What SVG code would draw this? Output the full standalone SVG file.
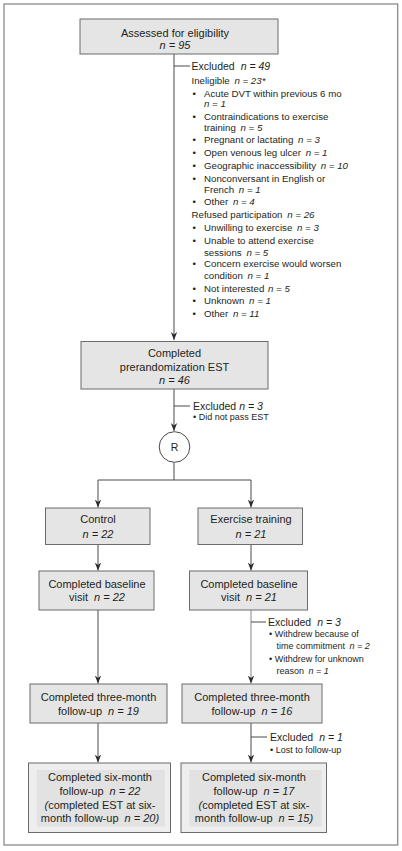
<svg xmlns="http://www.w3.org/2000/svg" width="402" height="851" viewBox="0 0 402 851">
<style>
text{font-family:"Liberation Sans",Arial,sans-serif;fill:#231f20}
.bx{fill:#e5e5e5;stroke:#6b6b6b;stroke-width:1}
.bo{fill:#eeeeee;stroke:#6b6b6b;stroke-width:1}
.bi{fill:#e2e2e2;stroke:none}
.t{font-size:11px;text-anchor:middle}
.h{font-size:10.5px}
.l{font-size:9.7px}
.s{font-size:9px}
.i{font-style:italic}
.ln{fill:none;stroke:#4a4a4a;stroke-width:1}
.lg{fill:none;stroke:#8a8a8a;stroke-width:1}
</style>
<defs>
<marker id="ah" markerUnits="userSpaceOnUse" markerWidth="8" markerHeight="8" viewBox="0 0 10 10" refX="10" refY="5" orient="auto">
<path d="M0,1 L10,5 L0,9 L3,5 z" fill="#2a2a2a"/>
</marker>
</defs>
<rect x="4" y="4" width="393.7" height="841" fill="#ffffff" stroke="#8a8a8a" stroke-width="1.3"/>
<g id="connectors">
<line class="ln" x1="174" y1="54" x2="174" y2="340" marker-end="url(#ah)"/>
<line class="ln" x1="174" y1="66" x2="190" y2="66"/>
<line class="ln" x1="174" y1="389" x2="174" y2="431" marker-end="url(#ah)"/>
<line class="ln" x1="174" y1="406" x2="190" y2="406"/>
<polyline class="ln" points="174,462.5 174,480 98,480 98,507.5" marker-end="url(#ah)"/>
<polyline class="ln" points="174,480 251,480 251,507.5" marker-end="url(#ah)"/>
<line class="ln" x1="98" y1="544.5" x2="98" y2="570.5" marker-end="url(#ah)"/>
<line class="ln" x1="251" y1="544.5" x2="251" y2="570.5" marker-end="url(#ah)"/>
<line class="ln" x1="98" y1="610" x2="98" y2="683.5" marker-end="url(#ah)"/>
<line class="lg" x1="251" y1="610" x2="251" y2="683.5" marker-end="url(#ah)"/>
<line class="ln" x1="251" y1="622" x2="266" y2="622"/>
<line class="ln" x1="98" y1="723" x2="98" y2="762.5" marker-end="url(#ah)"/>
<line class="ln" x1="251" y1="723" x2="251" y2="762.5" marker-end="url(#ah)"/>
<line class="ln" x1="251" y1="737" x2="267" y2="737"/>
</g>
<g id="n-assessed">
<rect class="bx" x="80" y="19" width="198" height="35"/>
<text class="t" x="175" y="36.5">Assessed for eligibility</text>
<text class="t i" x="175" y="49">n = 95</text>
</g>
<g id="n-excluded1">
<text class="h" x="191.5" y="69.5">Excluded <tspan class="i" dx="3">n = 49</tspan></text>
<text class="l" x="191.5" y="84">Ineligible <tspan class="i" dx="2">n = 23*</tspan></text>
<g class="l">
<text x="192.5" y="96.5">•</text><text x="204" y="96.5">Acute DVT within previous 6 mo</text>
<text class="i" x="204" y="107">n = 1</text>
<text x="192.5" y="120">•</text><text x="204" y="120">Contraindications to exercise</text>
<text x="204" y="130.5">training <tspan class="i" dx="2">n = 5</tspan></text>
<text x="192.5" y="143">•</text><text x="204" y="143">Pregnant or lactating <tspan class="i" dx="2">n = 3</tspan></text>
<text x="192.5" y="156">•</text><text x="204" y="156">Open venous leg ulcer <tspan class="i" dx="2">n = 1</tspan></text>
<text x="192.5" y="169">•</text><text x="204" y="169">Geographic inaccessibility <tspan class="i" dx="2">n = 10</tspan></text>
<text x="192.5" y="182">•</text><text x="204" y="182">Nonconversant in English or</text>
<text x="204" y="192.5">French <tspan class="i" dx="2">n  = 1</tspan></text>
<text x="192.5" y="205">•</text><text x="204" y="205">Other <tspan class="i" dx="2">n = 4</tspan></text>
</g>
<text class="l" x="191.5" y="218">Refused participation <tspan class="i" dx="2">n = 26</tspan></text>
<g class="l">
<text x="192.5" y="230.5">•</text><text x="204" y="230.5">Unwilling to exercise <tspan class="i" dx="2">n = 3</tspan></text>
<text x="192.5" y="244">•</text><text x="204" y="244">Unable to attend exercise</text>
<text x="204" y="256">sessions <tspan class="i" dx="2">n = 5</tspan></text>
<text x="192.5" y="267">•</text><text x="204" y="267">Concern exercise would worsen</text>
<text x="204" y="278.5">condition <tspan class="i" dx="2">n = 1</tspan></text>
<text x="192.5" y="291.5">•</text><text x="204" y="291.5">Not interested <tspan class="i" dx="1">n = 5</tspan></text>
<text x="192.5" y="303.5">•</text><text x="204" y="303.5">Unknown <tspan class="i" dx="2">n = 1</tspan></text>
<text x="192.5" y="316.5">•</text><text x="204" y="316.5">Other <tspan class="i" dx="2">n = 11</tspan></text>
</g>
</g>
<g id="n-est">
<rect class="bx" x="81" y="341.5" width="187" height="47.5"/>
<text class="t" x="174.5" y="357">Completed</text>
<text class="t" x="174.5" y="370.5">prerandomization EST</text>
<text class="t i" x="174.5" y="384">n = 46</text>
</g>
<g id="n-excluded2">
<text class="h" x="193" y="409.5">Excluded <tspan class="i">n = 3</tspan></text>
<text class="s" x="193" y="420">• Did not pass EST</text>
</g>
<g id="n-R">
<circle cx="174.5" cy="447" r="15.3" fill="#ffffff" stroke="#4a4a4a" stroke-width="1"/>
<text class="t" x="174.5" y="451" style="font-size:10.5px">R</text>
</g>
<g id="n-control">
<rect class="bx" x="45.5" y="508" width="104.5" height="36.5"/>
<text class="t" x="98" y="523">Control</text>
<text class="t i" x="98" y="537.5">n = 22</text>
</g>
<g id="n-exercise">
<rect class="bx" x="198" y="508" width="104.5" height="36.5"/>
<text class="t" x="251" y="523">Exercise training</text>
<text class="t i" x="251" y="537.5">n = 21</text>
</g>
<g id="n-baseline-c">
<rect class="bx" x="39" y="571" width="115" height="39"/>
<text class="t" x="97" y="587.5">Completed baseline</text>
<text class="t" x="97" y="601">visit <tspan class="i" dx="3">n = 22</tspan></text>
</g>
<g id="n-baseline-e">
<rect class="bx" x="189.5" y="571" width="118" height="39"/>
<text class="t" x="249" y="587.5">Completed baseline</text>
<text class="t" x="249" y="601">visit <tspan class="i" dx="3">n = 21</tspan></text>
</g>
<g id="n-excluded3">
<text class="h" x="268" y="625.5">Excluded <tspan class="i" dx="3">n = 3</tspan></text>
<text class="s" x="269" y="636.5">• Withdrew because of</text>
<text class="s" x="276.5" y="648.5">time commitment <tspan class="i" dx="2">n = 2</tspan></text>
<text class="s" x="269" y="661.5">• Withdrew for unknown</text>
<text class="s" x="276.5" y="673.5">reason <tspan class="i" dx="2">n = 1</tspan></text>
</g>
<g id="n-3mo-c">
<rect class="bx" x="30" y="684" width="137" height="39"/>
<text class="t" x="98.5" y="701">Completed three-month</text>
<text class="t" x="98.5" y="715">follow-up <tspan class="i" dx="3">n = 19</tspan></text>
</g>
<g id="n-3mo-e">
<rect class="bx" x="182" y="684" width="140" height="39"/>
<text class="t" x="252" y="701">Completed three-month</text>
<text class="t" x="252" y="715">follow-up <tspan class="i" dx="3">n = 16</tspan></text>
</g>
<g id="n-excluded4">
<text class="h" x="270" y="740.5">Excluded <tspan class="i" dx="3">n = 1</tspan></text>
<text class="s" x="270" y="753">• Lost to follow-up</text>
</g>
<g id="n-6mo-c">
<rect class="bo" x="28.5" y="763" width="142" height="69.5"/>
<rect class="bi" x="36.7" y="770" width="128.3" height="56.5"/>
<text class="t" x="100" y="781">Completed six-month</text>
<text class="t" x="100" y="794.5">follow-up <tspan class="i" dx="3">n = 22</tspan></text>
<text class="t" x="100" y="808.5"><tspan class="i">(</tspan>completed EST at six-</text>
<text class="t" x="100" y="822">month follow-up <tspan class="i" dx="3">n = 20)</tspan></text>
</g>
<g id="n-6mo-e">
<rect class="bo" x="181" y="763" width="145.5" height="69.5"/>
<rect class="bi" x="189.3" y="770" width="132.4" height="56.5"/>
<text class="t" x="254" y="781">Completed six-month</text>
<text class="t" x="254" y="794.5">follow-up <tspan class="i" dx="3">n = 17</tspan></text>
<text class="t" x="254" y="808.5"><tspan class="i">(</tspan>completed EST at six-</text>
<text class="t" x="254" y="822">month follow-up <tspan class="i" dx="3">n = 15)</tspan></text>
</g>
</svg>
